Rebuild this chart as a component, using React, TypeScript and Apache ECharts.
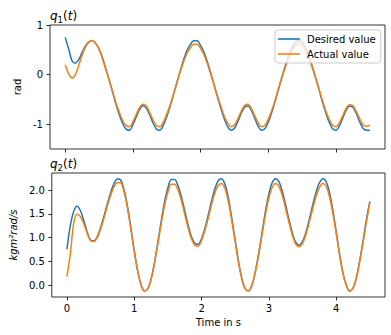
import React, { useEffect, useRef } from "react";
import * as echarts from "echarts";

// Time in s (sampling grid of the curves)
const TIME = [
  0, 0.05, 0.1, 0.15, 0.2, 0.25, 0.3, 0.35, 0.4, 0.45,
  0.5, 0.55, 0.6, 0.65, 0.7, 0.75, 0.8, 0.85, 0.9, 0.95,
  1, 1.05, 1.1, 1.15, 1.2, 1.25, 1.3, 1.35, 1.4, 1.45,
  1.5, 1.55, 1.6, 1.65, 1.7, 1.75, 1.8, 1.85, 1.9, 1.95,
  2, 2.05, 2.1, 2.15, 2.2, 2.25, 2.3, 2.35, 2.4, 2.45,
  2.5, 2.55, 2.6, 2.65, 2.7, 2.75, 2.8, 2.85, 2.9, 2.95,
  3, 3.05, 3.1, 3.15, 3.2, 3.25, 3.3, 3.35, 3.4, 3.45,
  3.5, 3.55, 3.6, 3.65, 3.7, 3.75, 3.8, 3.85, 3.9, 3.95,
  4, 4.05, 4.1, 4.15, 4.2, 4.25, 4.3, 4.35, 4.4, 4.45,
  4.5,
];

// q1(t) in rad
const Q1_DESIRED = [
  0.75, 0.52, 0.28, 0.23, 0.3, 0.45, 0.58, 0.66, 0.69, 0.63,
  0.52, 0.34, 0.12, -0.11, -0.35, -0.6, -0.81, -0.99, -1.1, -1.12,
  -1.01, -0.85, -0.7, -0.63, -0.68, -0.82, -0.98, -1.1, -1.12, -1.02,
  -0.85, -0.64, -0.4, -0.16, 0.08, 0.3, 0.49, 0.61, 0.68, 0.68,
  0.59, 0.45, 0.26, 0.03, -0.21, -0.45, -0.68, -0.89, -1.05, -1.12,
  -1.08, -0.95, -0.78, -0.66, -0.635, -0.72, -0.88, -1.04, -1.12, -1.09,
  -0.96, -0.77, -0.55, -0.3, -0.06, 0.17, 0.38, 0.55, 0.65, 0.69,
  0.65, 0.55, 0.38, 0.17, -0.06, -0.3, -0.55, -0.77, -0.96, -1.09,
  -1.12, -1.04, -0.88, -0.72, -0.64, -0.66, -0.78, -0.95, -1.08, -1.12,
  -1.12,
];
const Q1_ACTUAL = [
  0.2, 0.02, -0.07, 0.0, 0.19, 0.39, 0.56, 0.66, 0.69, 0.63,
  0.51, 0.32, 0.1, -0.12, -0.34, -0.57, -0.76, -0.93, -1.03, -1.05,
  -0.95, -0.8, -0.66, -0.6, -0.64, -0.77, -0.92, -1.03, -1.05, -0.96,
  -0.8, -0.61, -0.39, -0.17, 0.06, 0.26, 0.43, 0.54, 0.61, 0.61,
  0.525, 0.4, 0.22, 0.01, -0.21, -0.43, -0.64, -0.84, -0.98, -1.05,
  -1.01, -0.89, -0.74, -0.625, -0.6, -0.68, -0.83, -0.975, -1.05, -1.02,
  -0.9, -0.73, -0.52, -0.29, -0.07, 0.14, 0.33, 0.49, 0.58, 0.62,
  0.58, 0.49, 0.33, 0.14, -0.07, -0.29, -0.52, -0.73, -0.9, -1.02,
  -1.05, -0.975, -0.83, -0.68, -0.607, -0.625, -0.74, -0.89, -1.01, -1.04,
  -1.02,
];

// q2(t) in kg m^2 rad/s
const Q2_DESIRED = [
  0.76, 1.25, 1.55, 1.66, 1.57, 1.36, 1.12, 0.95, 0.93, 1.02,
  1.21, 1.45, 1.71, 1.95, 2.14, 2.23, 2.21, 2.0, 1.65, 1.2,
  0.73, 0.31, 0.01, -0.12, -0.08, 0.13, 0.47, 0.9, 1.34, 1.75,
  2.05, 2.22, 2.22, 2.09, 1.86, 1.56, 1.26, 1.02, 0.88, 0.86,
  0.98, 1.2, 1.48, 1.78, 2.04, 2.2, 2.24, 2.11, 1.82, 1.4,
  0.94, 0.49, 0.13, -0.08, -0.12, 0.01, 0.29, 0.68, 1.12, 1.56,
  1.92, 2.16, 2.24, 2.17, 1.97, 1.68, 1.37, 1.09, 0.9, 0.84,
  0.92, 1.11, 1.38, 1.68, 1.95, 2.15, 2.24, 2.18, 1.95, 1.58,
  1.13, 0.66, 0.26, 0.0, -0.13, -0.06, 0.16, 0.52, 0.94, 1.39,
  1.76,
];
const Q2_ACTUAL = [
  0.18, 0.65, 1.3, 1.49, 1.44, 1.29, 1.09, 0.94, 0.92, 1.0,
  1.18, 1.41, 1.66, 1.89, 2.07, 2.16, 2.15, 1.95, 1.61, 1.16,
  0.7, 0.3, 0.01, -0.12, -0.08, 0.12, 0.45, 0.86, 1.28, 1.67,
  1.96, 2.12, 2.12, 2.0, 1.78, 1.49, 1.2, 0.97, 0.84, 0.82,
  0.94, 1.15, 1.41, 1.7, 1.95, 2.1, 2.14, 2.02, 1.74, 1.34,
  0.9, 0.47, 0.12, -0.08, -0.12, 0.01, 0.28, 0.65, 1.07, 1.49,
  1.83, 2.06, 2.14, 2.07, 1.88, 1.6, 1.31, 1.04, 0.86, 0.81,
  0.88, 1.06, 1.32, 1.6, 1.86, 2.05, 2.14, 2.08, 1.86, 1.51,
  1.08, 0.63, 0.25, 0.0, -0.12, -0.06, 0.15, 0.5, 0.9, 1.33,
  1.74,
];

const X_TICKS = [0, 1, 2, 3, 4];
const Q1_TICKS = [-1, 0, 1];
const Q2_TICKS = [0, 0.5, 1, 1.5, 2];
const SERIES_NAMES = ["Desired value", "Actual value"];
const COLORS = ["#1f77b4", "#ff7f0e"];

const FONT = "DejaVu Sans";

export default function App() {
  const ref = useRef<HTMLDivElement>(null);

  useEffect(() => {
    const chart = echarts.init(ref.current!, null, { renderer: "svg" });
    const pair = (ys: number[]) => TIME.map((t, i) => [t, ys[i]]);

    const tick = (vals: number[]) => ({
      show: true,
      length: 3.5,
      inside: false,
      customValues: vals,
      lineStyle: { color: "#000", width: 0.8 },
    });

    const hiddenLine = { show: false, onZero: false };

    const xBase = {
      type: "value" as const,
      min: -0.225,
      max: 4.725,
      position: "bottom" as const,
      axisLine: hiddenLine,
      splitLine: { show: false },
      axisTick: tick(X_TICKS),
    };

    const titleRich = {
      it: { fontFamily: FONT, fontStyle: "italic", fontWeight: "normal", fontSize: 12, color: "#000" },
      n: { fontFamily: FONT, fontStyle: "normal", fontWeight: "normal", fontSize: 12, color: "#000" },
      sub: { fontFamily: FONT, fontStyle: "normal", fontWeight: "normal", fontSize: 8.5, color: "#000", padding: [7, 0, 0, 0] },
    };

    const option: any = {
      animation: false,
      backgroundColor: "#fff",
      textStyle: { fontFamily: FONT },
      title: [
        { text: "{it|q}{sub|1}{n|(}{it|t}{n|)}", left: 50, top: 8, padding: 0, textStyle: { fontWeight: "normal", rich: titleRich } },
        { text: "{it|q}{sub|2}{n|(}{it|t}{n|)}", left: 50, top: 156, padding: 0, textStyle: { fontWeight: "normal", rich: titleRich } },
      ],
      legend: {
        data: SERIES_NAMES,
        orient: "vertical",
        left: 275,
        top: 30,
        icon: "rect",
        itemWidth: 22,
        itemHeight: 1.6,
        itemGap: 3,
        padding: [3, 5, 3, 3],
        backgroundColor: "rgba(255,255,255,0.8)",
        borderColor: "#cccccc",
        borderWidth: 1,
        borderRadius: 3,
        textStyle: { fontFamily: FONT, fontSize: 10, color: "#000", lineHeight: 12, padding: [0, 0, 0, 2] },
      },
      grid: [
        { left: 50, top: 25, width: 335, height: 124, show: true, borderColor: "#000", borderWidth: 0.8, containLabel: false },
        { left: 50, top: 173, width: 335, height: 124, show: true, borderColor: "#000", borderWidth: 0.8, containLabel: false },
      ],
      xAxis: [
        { ...xBase, gridIndex: 0, axisLabel: { show: false } },
        {
          ...xBase,
          gridIndex: 1,
          name: "Time in s",
          nameLocation: "middle",
          nameGap: 20,
          nameTextStyle: { fontFamily: FONT, fontSize: 10, color: "#000" },
          axisLabel: {
            show: true,
            customValues: X_TICKS,
            margin: 6,
            fontFamily: FONT,
            fontSize: 10,
            color: "#000",
            formatter: (v: number) => String(v),
          },
        },
      ],
      yAxis: [
        {
          type: "value",
          gridIndex: 0,
          position: "left",
          min: -1.5,
          max: 1,
          axisLine: hiddenLine,
          splitLine: { show: false },
          axisTick: tick(Q1_TICKS),
          axisLabel: {
            customValues: Q1_TICKS,
            margin: 7,
            fontFamily: FONT,
            fontSize: 10,
            color: "#000",
            formatter: (v: number) => String(v),
          },
          name: "rad",
          nameLocation: "middle",
          nameRotate: 90,
          nameGap: 28,
          nameTextStyle: { fontFamily: FONT, fontSize: 10, color: "#000" },
        },
        {
          type: "value",
          gridIndex: 1,
          position: "left",
          min: -0.2485,
          max: 2.3585,
          axisLine: hiddenLine,
          splitLine: { show: false },
          axisTick: tick(Q2_TICKS),
          axisLabel: {
            customValues: Q2_TICKS,
            margin: 7,
            fontFamily: FONT,
            fontSize: 10,
            color: "#000",
            formatter: (v: number) => v.toFixed(1),
          },
          name: "kgm²rad/s",
          nameLocation: "middle",
          nameRotate: 90,
          nameGap: 31,
          nameTextStyle: { fontFamily: FONT, fontSize: 10, fontStyle: "italic", color: "#000" },
        },
      ],
      series: [
        { name: SERIES_NAMES[0], type: "line", xAxisIndex: 0, yAxisIndex: 0, data: pair(Q1_DESIRED), color: COLORS[0] },
        { name: SERIES_NAMES[1], type: "line", xAxisIndex: 0, yAxisIndex: 0, data: pair(Q1_ACTUAL), color: COLORS[1] },
        { name: SERIES_NAMES[0], type: "line", xAxisIndex: 1, yAxisIndex: 1, data: pair(Q2_DESIRED), color: COLORS[0] },
        { name: SERIES_NAMES[1], type: "line", xAxisIndex: 1, yAxisIndex: 1, data: pair(Q2_ACTUAL), color: COLORS[1] },
      ].map((s) => ({
        ...s,
        showSymbol: false,
        smooth: 0.3,
        lineStyle: { width: 1.5, color: s.color },
        itemStyle: { color: s.color },
        emphasis: { disabled: true },
      })),
    };

    chart.setOption(option);
    return () => chart.dispose();
  }, []);

  return (
    <div
      ref={ref}
      style={{ position: "absolute", left: 0, top: 0, width: 391, height: 335 }}
    />
  );
}
